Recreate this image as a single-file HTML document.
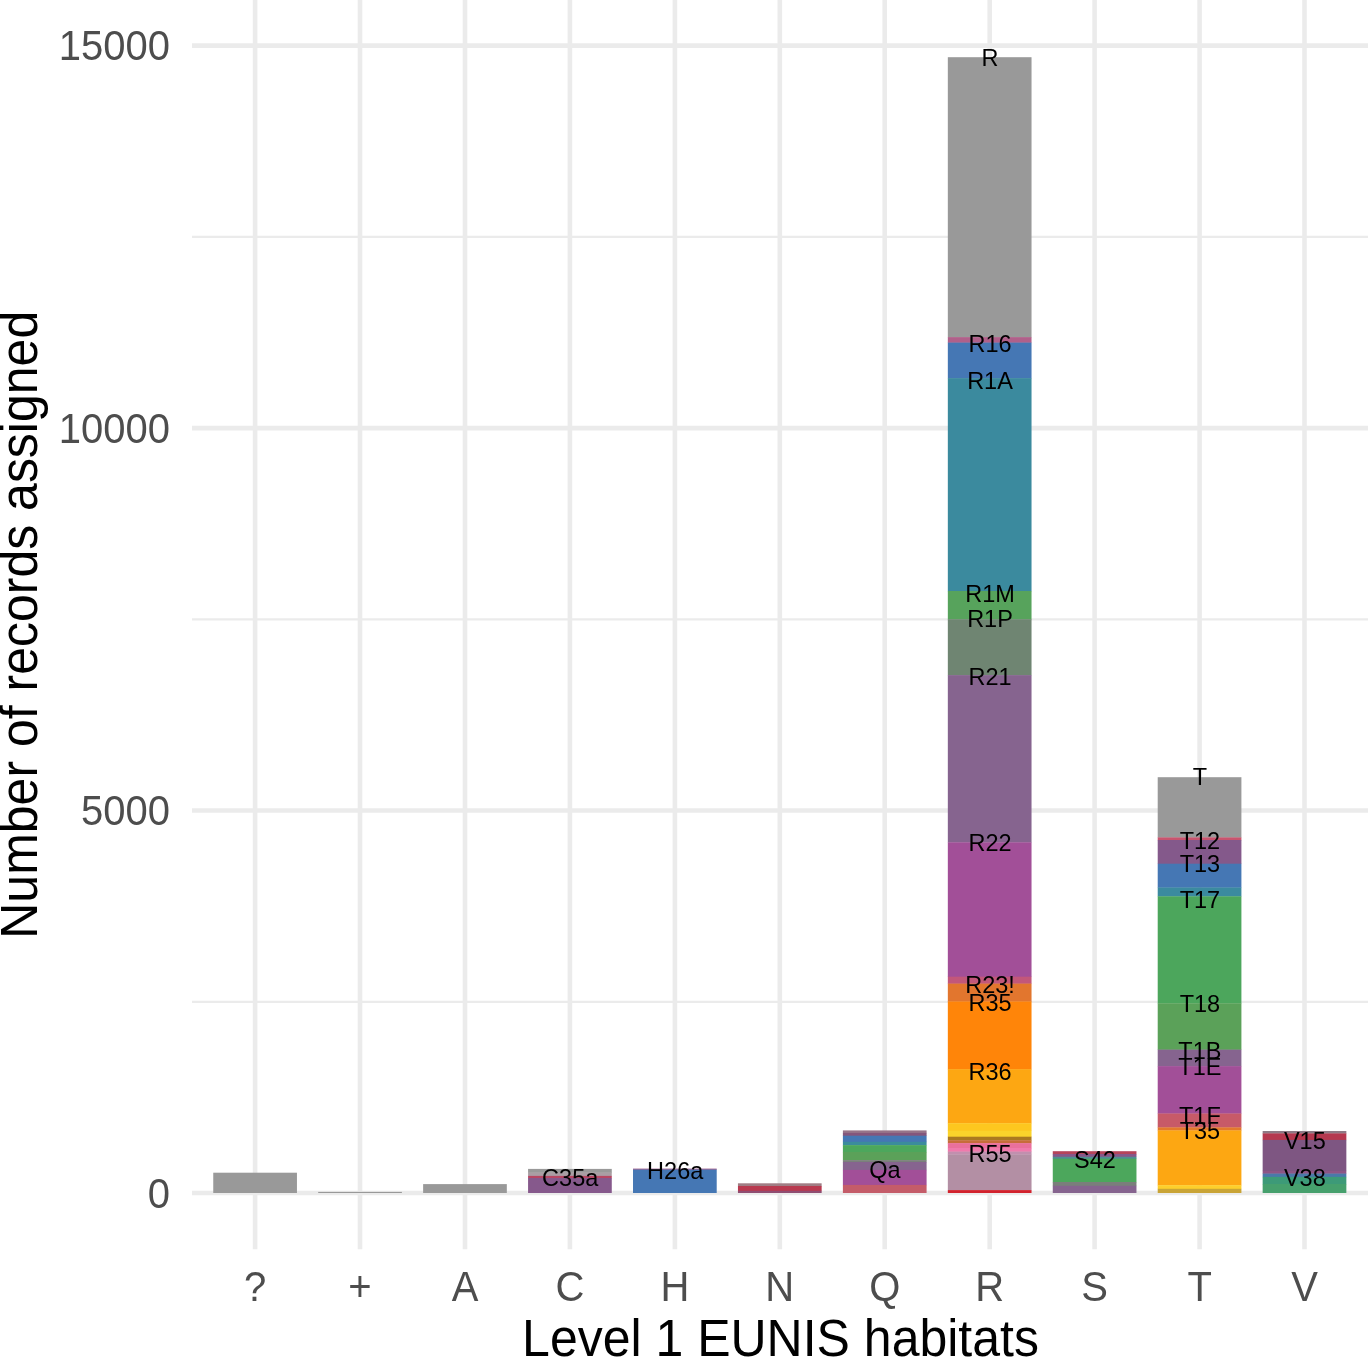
<!DOCTYPE html>
<html lang="en">
<head>
<meta charset="utf-8">
<title>Number of records assigned per Level 1 EUNIS habitat</title>
<style>
html,body{margin:0;padding:0;background:#fff;}
body{width:1368px;height:1359px;overflow:hidden;}
svg{display:block;}
svg text{font-family:"Liberation Sans",sans-serif;}
.tick{font-size:40px;fill:#4d4d4d;}
.title{font-size:50px;fill:#000;}
.lab{font-size:23.5px;fill:#000;text-anchor:middle;}
</style>
</head>
<body>
<svg width="1368" height="1359" viewBox="0 0 1368 1359">
<rect x="0" y="0" width="1368" height="1359" fill="#ffffff"/>
<g stroke="#ebebeb" fill="none">
<line x1="192.0" y1="236.8" x2="1368.0" y2="236.8" stroke-width="2.3"/>
<line x1="192.0" y1="619.3" x2="1368.0" y2="619.3" stroke-width="2.3"/>
<line x1="192.0" y1="1001.8" x2="1368.0" y2="1001.8" stroke-width="2.3"/>
<line x1="192.0" y1="45.6" x2="1368.0" y2="45.6" stroke-width="4.6"/>
<line x1="192.0" y1="428.1" x2="1368.0" y2="428.1" stroke-width="4.6"/>
<line x1="192.0" y1="810.5" x2="1368.0" y2="810.5" stroke-width="4.6"/>
<line x1="192.0" y1="1193.0" x2="1368.0" y2="1193.0" stroke-width="4.6"/>
<line x1="255.1" y1="0" x2="255.1" y2="1249.3" stroke-width="4.6"/>
<line x1="360.0" y1="0" x2="360.0" y2="1249.3" stroke-width="4.6"/>
<line x1="465.0" y1="0" x2="465.0" y2="1249.3" stroke-width="4.6"/>
<line x1="569.9" y1="0" x2="569.9" y2="1249.3" stroke-width="4.6"/>
<line x1="674.9" y1="0" x2="674.9" y2="1249.3" stroke-width="4.6"/>
<line x1="779.8" y1="0" x2="779.8" y2="1249.3" stroke-width="4.6"/>
<line x1="884.7" y1="0" x2="884.7" y2="1249.3" stroke-width="4.6"/>
<line x1="989.7" y1="0" x2="989.7" y2="1249.3" stroke-width="4.6"/>
<line x1="1094.6" y1="0" x2="1094.6" y2="1249.3" stroke-width="4.6"/>
<line x1="1199.6" y1="0" x2="1199.6" y2="1249.3" stroke-width="4.6"/>
<line x1="1304.5" y1="0" x2="1304.5" y2="1249.3" stroke-width="4.6"/>
</g>
<g>
<rect x="213.25" y="1172.70" width="83.70" height="20.30" fill="#999999"/>
<rect x="318.19" y="1191.90" width="83.70" height="1.10" fill="#999999"/>
<rect x="423.13" y="1184.10" width="83.70" height="8.90" fill="#999999"/>
<rect x="528.07" y="1168.90" width="83.70" height="4.00" fill="#999999"/>
<rect x="528.07" y="1172.60" width="83.70" height="3.60" fill="#aa9ea4"/>
<rect x="528.07" y="1175.90" width="83.70" height="2.40" fill="#b84663"/>
<rect x="528.07" y="1178.00" width="83.70" height="15.00" fill="#86598c"/>
<rect x="633.01" y="1168.60" width="83.70" height="1.30" fill="#9b5a8a"/>
<rect x="633.01" y="1169.60" width="83.70" height="23.40" fill="#4577b4"/>
<rect x="737.95" y="1183.30" width="83.70" height="3.00" fill="#a07d84"/>
<rect x="737.95" y="1186.00" width="83.70" height="5.10" fill="#b9394f"/>
<rect x="737.95" y="1190.80" width="83.70" height="2.20" fill="#8f4d72"/>
<rect x="842.89" y="1130.40" width="83.70" height="2.80" fill="#977489"/>
<rect x="842.89" y="1132.90" width="83.70" height="3.10" fill="#84567c"/>
<rect x="842.89" y="1135.70" width="83.70" height="6.40" fill="#4577b4"/>
<rect x="842.89" y="1141.80" width="83.70" height="3.60" fill="#3b8c9c"/>
<rect x="842.89" y="1145.10" width="83.70" height="7.20" fill="#4ca75c"/>
<rect x="842.89" y="1152.00" width="83.70" height="8.40" fill="#5ba159"/>
<rect x="842.89" y="1160.10" width="83.70" height="2.20" fill="#7a7f7b"/>
<rect x="842.89" y="1162.00" width="83.70" height="8.20" fill="#86648f"/>
<rect x="842.89" y="1169.90" width="83.70" height="15.30" fill="#a24f98"/>
<rect x="842.89" y="1184.90" width="83.70" height="8.10" fill="#c45c69"/>
<rect x="947.83" y="57.20" width="83.70" height="280.20" fill="#999999"/>
<rect x="947.83" y="337.10" width="83.70" height="5.80" fill="#b0608a"/>
<rect x="947.83" y="342.60" width="83.70" height="35.80" fill="#4577b4"/>
<rect x="947.83" y="378.10" width="83.70" height="213.20" fill="#3b8a9e"/>
<rect x="947.83" y="591.00" width="83.70" height="28.50" fill="#57a35c"/>
<rect x="947.83" y="619.20" width="83.70" height="56.20" fill="#6f8572"/>
<rect x="947.83" y="675.10" width="83.70" height="167.50" fill="#86648f"/>
<rect x="947.83" y="842.30" width="83.70" height="134.70" fill="#a24f98"/>
<rect x="947.83" y="976.70" width="83.70" height="7.20" fill="#c2577a"/>
<rect x="947.83" y="983.60" width="83.70" height="18.20" fill="#e2762e"/>
<rect x="947.83" y="1001.50" width="83.70" height="67.90" fill="#ff8509"/>
<rect x="947.83" y="1069.10" width="83.70" height="54.40" fill="#fda712"/>
<rect x="947.83" y="1123.20" width="83.70" height="7.80" fill="#fdc71f"/>
<rect x="947.83" y="1130.70" width="83.70" height="6.30" fill="#fbd42b"/>
<rect x="947.83" y="1136.70" width="83.70" height="3.80" fill="#ab7a20"/>
<rect x="947.83" y="1140.20" width="83.70" height="3.20" fill="#c76c3a"/>
<rect x="947.83" y="1143.10" width="83.70" height="5.20" fill="#ea709c"/>
<rect x="947.83" y="1148.00" width="83.70" height="3.90" fill="#f07aac"/>
<rect x="947.83" y="1151.60" width="83.70" height="3.20" fill="#c18fae"/>
<rect x="947.83" y="1154.50" width="83.70" height="35.90" fill="#b38fa4"/>
<rect x="947.83" y="1190.10" width="83.70" height="2.90" fill="#d2222d"/>
<rect x="1052.77" y="1151.20" width="83.70" height="3.10" fill="#b5445a"/>
<rect x="1052.77" y="1154.00" width="83.70" height="3.10" fill="#86588a"/>
<rect x="1052.77" y="1156.80" width="83.70" height="2.20" fill="#4e8f90"/>
<rect x="1052.77" y="1158.70" width="83.70" height="23.60" fill="#4ca75c"/>
<rect x="1052.77" y="1182.00" width="83.70" height="4.10" fill="#7a7f7b"/>
<rect x="1052.77" y="1185.80" width="83.70" height="7.20" fill="#86648f"/>
<rect x="1157.71" y="777.20" width="83.70" height="60.50" fill="#999999"/>
<rect x="1157.71" y="837.40" width="83.70" height="2.90" fill="#c9546e"/>
<rect x="1157.71" y="840.00" width="83.70" height="24.00" fill="#84598b"/>
<rect x="1157.71" y="863.70" width="83.70" height="24.10" fill="#4577b4"/>
<rect x="1157.71" y="887.50" width="83.70" height="9.10" fill="#3b8a9f"/>
<rect x="1157.71" y="896.30" width="83.70" height="107.30" fill="#4ca65c"/>
<rect x="1157.71" y="1003.30" width="83.70" height="46.60" fill="#5ba159"/>
<rect x="1157.71" y="1049.60" width="83.70" height="16.80" fill="#86648f"/>
<rect x="1157.71" y="1066.10" width="83.70" height="47.70" fill="#a24f98"/>
<rect x="1157.71" y="1113.50" width="83.70" height="14.20" fill="#c75a68"/>
<rect x="1157.71" y="1127.40" width="83.70" height="3.30" fill="#e37a2c"/>
<rect x="1157.71" y="1130.40" width="83.70" height="55.10" fill="#fda712"/>
<rect x="1157.71" y="1185.20" width="83.70" height="3.90" fill="#fdcf2b"/>
<rect x="1157.71" y="1188.80" width="83.70" height="4.20" fill="#c9a436"/>
<rect x="1262.65" y="1131.00" width="83.70" height="2.70" fill="#8f7a85"/>
<rect x="1262.65" y="1133.40" width="83.70" height="6.80" fill="#b5384f"/>
<rect x="1262.65" y="1139.90" width="83.70" height="31.20" fill="#7e5682"/>
<rect x="1262.65" y="1170.80" width="83.70" height="3.10" fill="#8d5585"/>
<rect x="1262.65" y="1173.60" width="83.70" height="3.60" fill="#4a79a9"/>
<rect x="1262.65" y="1176.90" width="83.70" height="7.40" fill="#3d9a78"/>
<rect x="1262.65" y="1184.00" width="83.70" height="9.00" fill="#46a06d"/>
</g>
<g class="lab">
<text transform="translate(570.2,1186.2) scale(1,1.04)">C35a</text>
<text transform="translate(675.2,1179.4) scale(1,1.04)">H26a</text>
<text transform="translate(885.0,1178.1) scale(1,1.04)">Qa</text>
<text transform="translate(990.0,65.6) scale(1,1.04)">R</text>
<text transform="translate(990.0,352.4) scale(1,1.04)">R16</text>
<text transform="translate(990.0,389.0) scale(1,1.04)">R1A</text>
<text transform="translate(990.0,601.5) scale(1,1.04)">R1M</text>
<text transform="translate(990.0,626.7) scale(1,1.04)">R1P</text>
<text transform="translate(990.0,684.7) scale(1,1.04)">R21</text>
<text transform="translate(990.0,850.6) scale(1,1.04)">R22</text>
<text transform="translate(990.0,992.9) scale(1,1.04)">R23!</text>
<text transform="translate(990.0,1010.7) scale(1,1.04)">R35</text>
<text transform="translate(990.0,1079.5) scale(1,1.04)">R36</text>
<text transform="translate(990.0,1161.6) scale(1,1.04)">R55</text>
<text transform="translate(1094.9,1167.8) scale(1,1.04)">S42</text>
<text transform="translate(1199.9,785.4) scale(1,1.04)">T</text>
<text transform="translate(1199.9,848.9) scale(1,1.04)">T12</text>
<text transform="translate(1199.9,872.2) scale(1,1.04)">T13</text>
<text transform="translate(1199.9,907.8) scale(1,1.04)">T17</text>
<text transform="translate(1199.9,1011.9) scale(1,1.04)">T18</text>
<text transform="translate(1199.9,1059.3) scale(1,1.04)">T1B</text>
<text transform="translate(1199.9,1074.7) scale(1,1.04)">T1E</text>
<text transform="translate(1199.9,1123.7) scale(1,1.04)">T1F</text>
<text transform="translate(1199.9,1139.4) scale(1,1.04)">T35</text>
<text transform="translate(1304.8,1148.8) scale(1,1.04)">V15</text>
<text transform="translate(1304.8,1186.0) scale(1,1.04)">V38</text>
</g>
<g class="tick" text-anchor="end">
<text transform="translate(170,60.2) scale(1,1.04)">15000</text>
<text transform="translate(170,442.7) scale(1,1.04)">10000</text>
<text transform="translate(170,825.1) scale(1,1.04)">5000</text>
<text transform="translate(170,1207.6) scale(1,1.04)">0</text>
</g>
<g class="tick" text-anchor="middle">
<text transform="translate(255.1,1301.3) scale(1,1.04)">?</text>
<text transform="translate(360.0,1301.3) scale(1,1.04)">+</text>
<text transform="translate(465.0,1301.3) scale(1,1.04)">A</text>
<text transform="translate(569.9,1301.3) scale(1,1.04)">C</text>
<text transform="translate(674.9,1301.3) scale(1,1.04)">H</text>
<text transform="translate(779.8,1301.3) scale(1,1.04)">N</text>
<text transform="translate(884.7,1301.3) scale(1,1.04)">Q</text>
<text transform="translate(989.7,1301.3) scale(1,1.04)">R</text>
<text transform="translate(1094.6,1301.3) scale(1,1.04)">S</text>
<text transform="translate(1199.6,1301.3) scale(1,1.04)">T</text>
<text transform="translate(1304.5,1301.3) scale(1,1.04)">V</text>
</g>
<text class="title" text-anchor="middle" transform="translate(780.5,1355.6) scale(1,1.04)">Level 1 EUNIS habitats</text>
<text class="title" text-anchor="middle" transform="translate(36.8,624.8) rotate(-90) scale(1,1.04)">Number of records assigned</text>
</svg>
</body>
</html>
